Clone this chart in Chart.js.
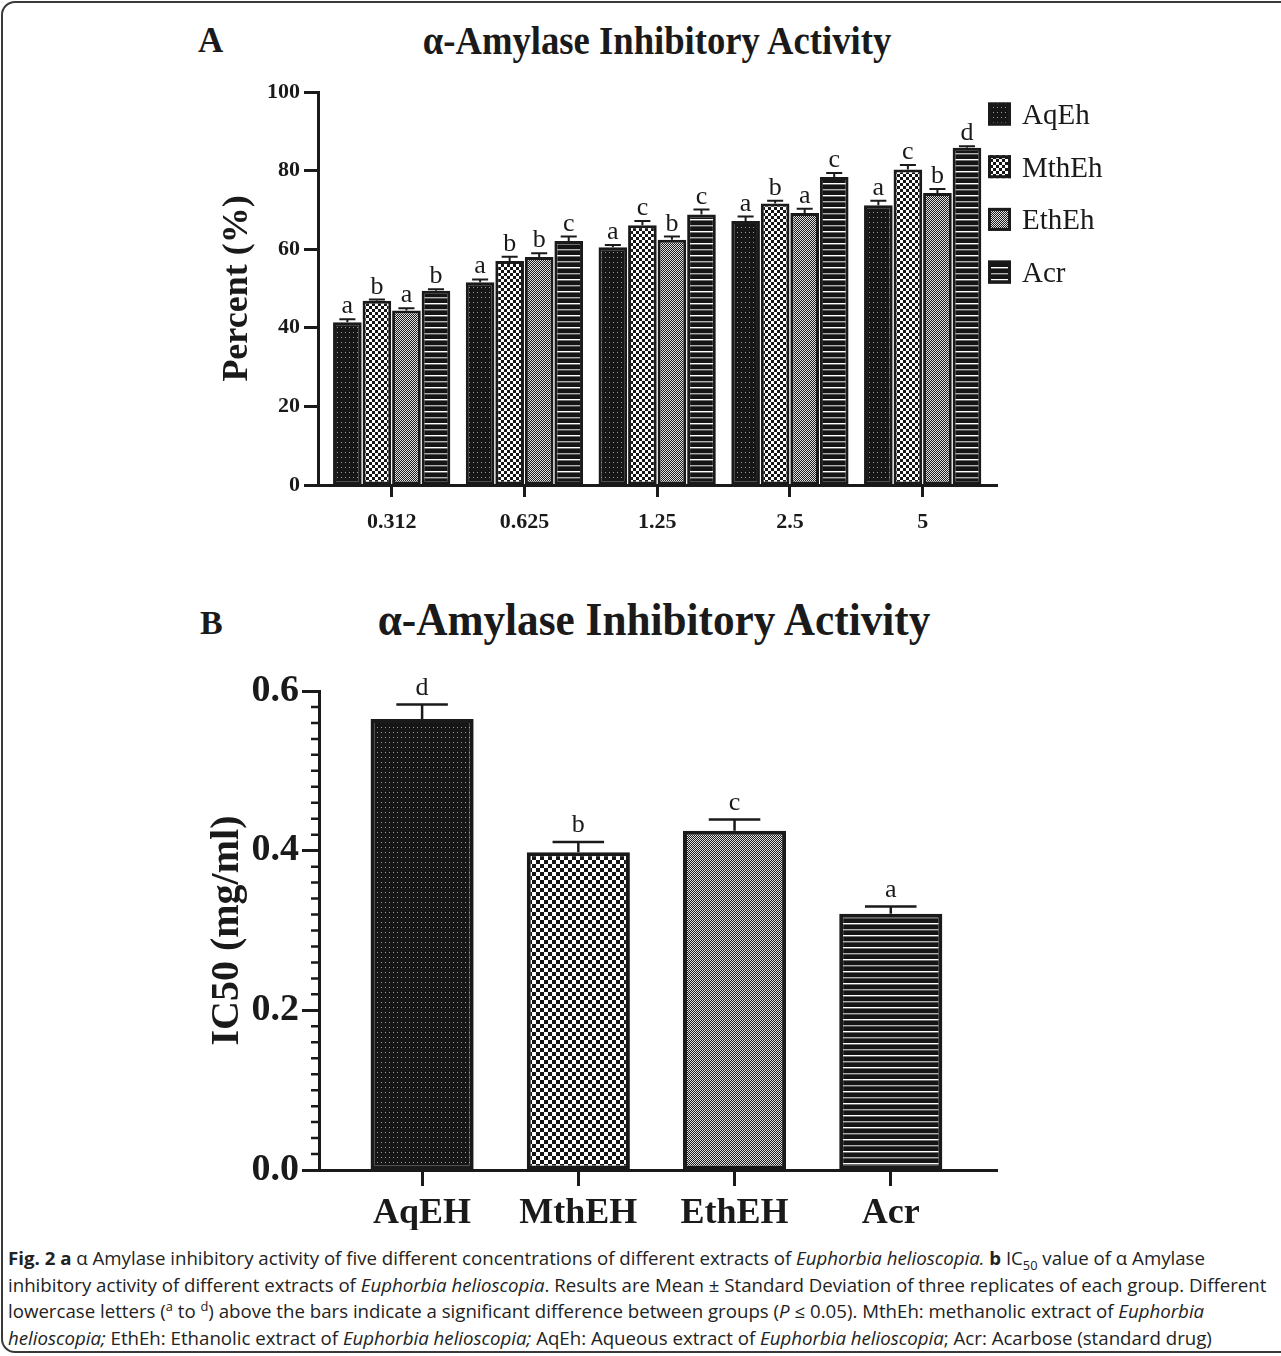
<!DOCTYPE html>
<html>
<head>
<meta charset="utf-8">
<script src="https://cdn.jsdelivr.net/npm/chart.js@4.4.1/dist/chart.umd.min.js"></script>
<style>
html, body { margin: 0; padding: 0; background: #fff; overflow: hidden; }
body { width: 1281px; height: 1356px; position: relative; }
#frame { position: absolute; left: 1px; top: 1px; width: 1330px; height: 1352px; border: 2px solid #3a3a3a; border-radius: 14px; box-sizing: border-box; }
.box { position: absolute; left: 0; width: 1281px; }
#boxA { top: 0; height: 560px; }
#boxB { top: 560px; height: 680px; }
.ttl { position: absolute; font-family: 'Liberation Serif', 'Times New Roman', serif; font-weight: bold; color: #1a1a1a; line-height: 1; white-space: nowrap; }
#caption { position: absolute; left: 8px; top: 1245px; font-family: 'Open Sans', sans-serif; font-size: 17.5px; line-height: 26.7px; color: #222; white-space: nowrap; transform-origin: 0 0; }
#caption .ln { display: block; }
#caption sub, #caption sup { font-size: 12px; line-height: 0; }
</style>
</head>
<body>
<div id="frame"></div>

<div class="ttl" style="left:198px; top:23px; font-size:35px;">A</div>
<div class="ttl" style="left:657px; top:21px; font-size:39px; transform:translateX(-50%) scaleX(0.94);">α-Amylase Inhibitory Activity</div>
<div class="box" id="boxA"><canvas id="chartA"></canvas></div>

<div class="ttl" style="left:200px; top:606px; font-size:34px;">B</div>
<div class="ttl" style="left:654px; top:597px; font-size:46px; transform:translateX(-50%) scaleX(0.94);">α-Amylase Inhibitory Activity</div>
<div class="box" id="boxB"><canvas id="chartB"></canvas></div>

<div id="caption">
<span class="ln"><b>Fig. 2 a</b> α Amylase inhibitory activity of five different concentrations of different extracts of <i>Euphorbia helioscopia.</i> <b>b</b> IC<sub>50</sub> value of α Amylase</span>
<span class="ln" id="longLine">inhibitory activity of different extracts of <i>Euphorbia helioscopia</i>. Results are Mean ± Standard Deviation of three replicates of each group. Different</span>
<span class="ln">lowercase letters (<sup>a</sup> to <sup>d</sup>) above the bars indicate a significant difference between groups (<i>P</i> ≤ 0.05). MthEh: methanolic extract of <i>Euphorbia</i></span>
<span class="ln"><i>helioscopia;</i> EthEh: Ethanolic extract of <i>Euphorbia helioscopia;</i> AqEh: Aqueous extract of <i>Euphorbia helioscopia</i>; Acr: Acarbose (standard drug)</span>
</div>

<script>
// ---- panel A data: % inhibition at each concentration (mg/ml)
const concentrations = ['0.312', '0.625', '1.25', '2.5', '5'];
const seriesNames = ['AqEh', 'MthEh', 'EthEh', 'Acr'];
const aqEh  = [41.4, 51.6, 60.5, 67.2, 71.2];
const mthEh = [46.9, 57.0, 66.1, 71.6, 80.3];
const ethEh = [44.4, 58.0, 62.4, 69.2, 74.3];
const acr   = [49.4, 62.1, 68.8, 78.4, 85.8];
const aqEhSd  = [0.8, 0.7, 0.6, 1.1, 1.1];
const mthEhSd = [0.3, 1.1, 1.1, 0.7, 1.1];
const ethEhSd = [0.6, 1.0, 0.8, 1.1, 1.0];
const acrSd   = [0.4, 1.1, 1.3, 1.0, 0.4];
const aqEhLetters  = ['a', 'a', 'a', 'a', 'a'];
const mthEhLetters = ['b', 'b', 'c', 'b', 'c'];
const ethEhLetters = ['a', 'b', 'b', 'a', 'b'];
const acrLetters   = ['b', 'c', 'c', 'c', 'd'];
const percentTicks = [0, 20, 40, 60, 80, 100];

// ---- panel B data: IC50 (mg/ml)
const extracts = ['AqEH', 'MthEH', 'EthEH', 'Acr'];
const ic50 = [0.565, 0.398, 0.425, 0.321];
const ic50Sd = [0.018, 0.013, 0.014, 0.009];
const ic50Letters = ['d', 'b', 'c', 'a'];
const ic50Ticks = [0, 0.2, 0.4, 0.6];

const ink = '#1a1a1a';
const serif = "'Liberation Serif', 'Times New Roman', serif";

/*** ======== fill patterns ======== ***/
function makePattern(w, h, paint) {
    const c = document.createElement('canvas');
    c.width = w; c.height = h;
    const g = c.getContext('2d');
    paint(g);
    return g.createPattern(c, 'repeat');
}
const dotted = makePattern(4, 5, g => {
    g.fillStyle = '#161616'; g.fillRect(0, 0, 4, 5);
    g.fillStyle = '#9a9a9a'; g.fillRect(1, 2, 1, 1);
});
function checker(n) {
    return makePattern(2 * n, 2 * n, g => {
        g.fillStyle = '#151515'; g.fillRect(0, 0, 2 * n, 2 * n);
        g.fillStyle = '#ffffff'; g.fillRect(0, 0, n, n); g.fillRect(n, n, n, n);
    });
}
const fineChecker = makePattern(2, 2, g => {
    g.fillStyle = '#1c1c1c'; g.fillRect(0, 0, 2, 2);
    g.fillStyle = '#e2e2e2'; g.fillRect(0, 0, 1, 1); g.fillRect(1, 1, 1, 1);
});
const striped = makePattern(1, 12, g => {
    g.fillStyle = '#151515'; g.fillRect(0, 0, 1, 12);
    g.fillStyle = '#ffffff'; g.fillRect(0, 3, 1, 1);
    g.fillStyle = '#707070'; g.fillRect(0, 4, 1, 1);
    g.fillStyle = '#b0b0b0'; g.fillRect(0, 9, 1, 1);
    g.fillStyle = '#555555'; g.fillRect(0, 10, 1, 1);
});

/*** ======== plugins ======== ***/
const errorBars = {
    id: 'errorBars',
    afterDatasetsDraw(chart, args, opts) {
        const ctx = chart.ctx, yScale = chart.scales.y;
        ctx.save();
        chart.data.datasets.forEach((ds, di) => {
            chart.getDatasetMeta(di).data.forEach((bar, i) => {
                const top = yScale.getPixelForValue(ds.data[i].y + ds.errors[i]);
                const half = bar.width * opts.cap;
                ctx.strokeStyle = ink;
                ctx.lineWidth = opts.width;
                ctx.beginPath();
                ctx.moveTo(bar.x, bar.y);
                ctx.lineTo(bar.x, top);
                ctx.moveTo(bar.x - half, top);
                ctx.lineTo(bar.x + half, top);
                ctx.stroke();
                ctx.fillStyle = ink;
                ctx.font = opts.font;
                ctx.textAlign = 'center';
                ctx.textBaseline = 'alphabetic';
                ctx.fillText(ds.letters[i], bar.x, top - opts.gap);
            });
        });
        ctx.restore();
    }
};

const sideLegend = {
    id: 'sideLegend',
    afterDraw(chart, args, opts) {
        if (!opts.show) return;
        const ctx = chart.ctx, area = chart.chartArea;
        ctx.save();
        chart.data.datasets.forEach((ds, i) => {
            const cy = area.top + opts.first + i * opts.step;
            const x = area.right + opts.dx;
            ctx.fillStyle = ds.backgroundColor;
            ctx.fillRect(x, cy - opts.box / 2, opts.box, opts.box);
            ctx.strokeStyle = ink;
            ctx.lineWidth = 3;
            ctx.strokeRect(x + 1.5, cy - opts.box / 2 + 1.5, opts.box - 3, opts.box - 3);
            ctx.fillStyle = ink;
            ctx.font = opts.font;
            ctx.textAlign = 'left';
            ctx.textBaseline = 'alphabetic';
            ctx.fillText(ds.label, x + opts.box + 11, cy + 10);
        });
        ctx.restore();
    }
};

const minorTicks = {
    id: 'minorTicks',
    afterDraw(chart, args, opts) {
        if (!opts.step) return;
        const ctx = chart.ctx, yScale = chart.scales.y, left = chart.chartArea.left;
        const n = Math.round((yScale.max - yScale.min) / opts.step);
        ctx.save();
        ctx.strokeStyle = ink;
        ctx.lineWidth = 2.5;
        ctx.beginPath();
        for (let k = 1; k < n; k++) {
            if (k % opts.every === 0) continue;
            const py = yScale.getPixelForValue(yScale.min + k * opts.step);
            ctx.moveTo(left - opts.length, py);
            ctx.lineTo(left, py);
        }
        ctx.stroke();
        ctx.restore();
    }
};

function xy(values) {
    return values.map((v, i) => ({ x: i, y: v }));
}

/*** ======== panel A ======== ***/
const fillsA = [dotted, checker(3), fineChecker, striped];
const valuesA = [aqEh, mthEh, ethEh, acr];
const sdA = [aqEhSd, mthEhSd, ethEhSd, acrSd];
const lettersA = [aqEhLetters, mthEhLetters, ethEhLetters, acrLetters];

new Chart(document.getElementById('chartA'), {
    type: 'bar',
    data: {
        datasets: seriesNames.map((name, k) => ({
            label: name,
            data: xy(valuesA[k]),
            errors: sdA[k],
            letters: lettersA[k],
            backgroundColor: fillsA[k],
            borderColor: ink,
            borderWidth: 3,
            borderSkipped: false,
            categoryPercentage: 0.89,
            barPercentage: 0.97
        }))
    },
    options: {
        responsive: true,
        maintainAspectRatio: false,
        animation: false,
        layout: { padding: { left: 208, right: 284, top: 92, bottom: 15 } },
        plugins: {
            legend: { display: false },
            tooltip: { enabled: false },
            errorBars: { cap: 0.28, width: 2, gap: 6, font: '26px ' + serif },
            sideLegend: { show: true, dx: -9, first: 22, step: 52.7, box: 23, font: '29px ' + serif },
            minorTicks: { step: 0 }
        },
        scales: {
            x: {
                type: 'linear',
                min: -0.555,
                max: 4.56,
                offset: false,
                afterBuildTicks: s => { s.ticks = concentrations.map((c, i) => ({ value: i })); },
                afterFit: s => { s.height = 60; },
                ticks: {
                    callback: v => concentrations[v],
                    font: { family: serif, size: 22, weight: 'bold' },
                    color: ink,
                    padding: 12,
                    maxRotation: 0
                },
                grid: { drawOnChartArea: false, drawTicks: true, tickLength: 12, tickWidth: 3, tickColor: ink, offset: false },
                border: { color: ink, width: 3 }
            },
            y: {
                min: 0,
                max: 100,
                afterBuildTicks: s => { s.ticks = percentTicks.map(v => ({ value: v })); },
                afterFit: s => { s.width = 110; },
                ticks: {
                    font: { family: serif, size: 22, weight: 'bold' },
                    color: ink,
                    padding: 4
                },
                grid: { drawOnChartArea: false, drawTicks: true, tickLength: 14, tickWidth: 3, tickColor: ink },
                border: { color: ink, width: 3 },
                title: {
                    display: true,
                    text: 'Percent (%)',
                    font: { family: serif, size: 36, weight: 'bold' },
                    color: ink,
                    padding: { top: 8, bottom: 0 }
                }
            }
        }
    },
    plugins: [errorBars, sideLegend, minorTicks]
});

/*** ======== panel B ======== ***/
new Chart(document.getElementById('chartB'), {
    type: 'bar',
    data: {
        datasets: [{
            label: 'IC50',
            data: xy(ic50),
            errors: ic50Sd,
            letters: ic50Letters,
            backgroundColor: [dotted, checker(4), fineChecker, striped],
            borderColor: ink,
            borderWidth: 4,
            borderSkipped: false,
            categoryPercentage: 0.66,
            barPercentage: 1
        }]
    },
    options: {
        responsive: true,
        maintainAspectRatio: false,
        animation: false,
        layout: { padding: { left: 200, right: 284, top: 131, bottom: 10 } },
        plugins: {
            legend: { display: false },
            tooltip: { enabled: false },
            errorBars: { cap: 0.25, width: 2.5, gap: 10, font: '26px ' + serif },
            sideLegend: { show: false },
            minorTicks: { step: 0.02, every: 10, length: 8 }
        },
        scales: {
            x: {
                type: 'linear',
                min: -0.66,
                max: 3.68,
                offset: false,
                afterBuildTicks: s => { s.ticks = extracts.map((c, i) => ({ value: i })); },
                afterFit: s => { s.height = 60; },
                ticks: {
                    callback: v => extracts[v],
                    font: { family: serif, size: 36, weight: 'bold' },
                    color: ink,
                    padding: 6,
                    maxRotation: 0
                },
                grid: { drawOnChartArea: false, drawTicks: true, tickLength: 16, tickWidth: 3, tickColor: ink, offset: false },
                border: { color: ink, width: 3 }
            },
            y: {
                min: 0,
                max: 0.6,
                afterBuildTicks: s => { s.ticks = ic50Ticks.map(v => ({ value: v })); },
                afterFit: s => { s.width = 119; },
                ticks: {
                    callback: v => v.toFixed(1),
                    font: { family: serif, size: 38, weight: 'bold' },
                    color: ink,
                    padding: 3
                },
                grid: { drawOnChartArea: false, drawTicks: true, tickLength: 17, tickWidth: 3, tickColor: ink },
                border: { color: ink, width: 3 },
                title: {
                    display: true,
                    text: 'IC50 (mg/ml)',
                    font: { family: serif, size: 40, weight: 'bold' },
                    color: ink,
                    padding: { top: 4, bottom: 0 }
                }
            }
        }
    },
    plugins: [errorBars, sideLegend, minorTicks]
});

/*** ======== caption width ======== ***/
function fitCaption() {
    const cap = document.getElementById('caption');
    const line = document.getElementById('longLine');
    line.style.display = 'inline-block';
    const w = line.offsetWidth;
    line.style.display = 'block';
    cap.style.transform = 'scaleX(' + (1258 / w) + ')';
}
fitCaption();
if (document.fonts) document.fonts.ready.then(fitCaption);
</script>
</body>
</html>
